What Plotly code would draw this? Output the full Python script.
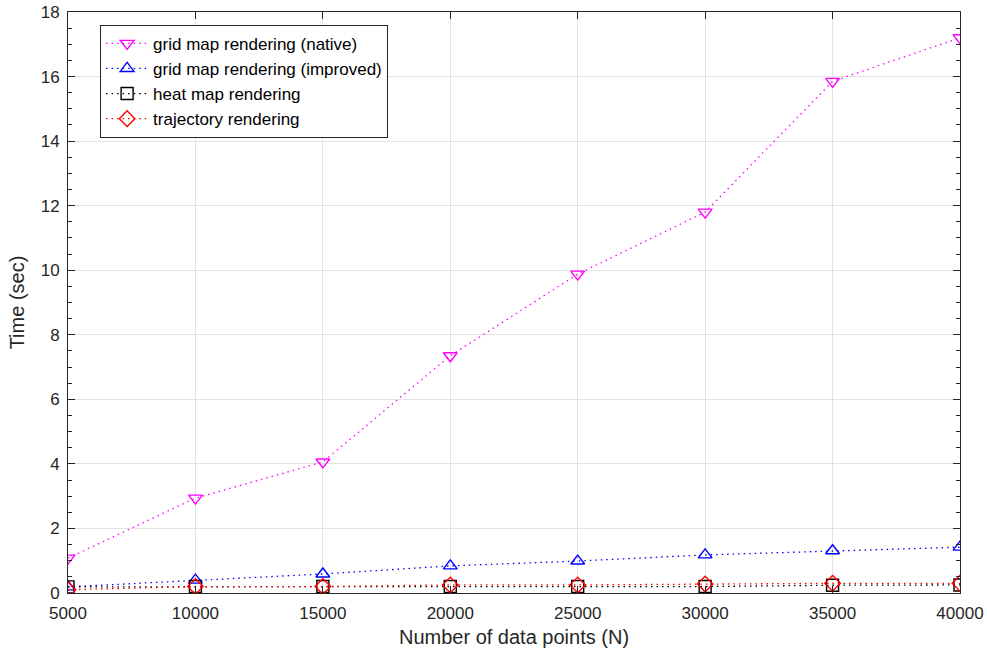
import plotly.graph_objects as go

n_points = [5000, 10000, 15000, 20000, 25000, 30000, 35000, 40000]
x_tick_labels = ["5000", "10000", "15000", "20000", "25000", "30000", "35000", "40000"]
grid_native = [1.08, 2.94, 4.06, 7.35, 9.88, 11.8, 15.85, 17.2]
grid_improved = [0.19, 0.40, 0.59, 0.84, 0.99, 1.18, 1.31, 1.42]
heat_map = [0.19, 0.2, 0.2, 0.2, 0.2, 0.2, 0.24, 0.25]
trajectory = [0.1, 0.2, 0.2, 0.25, 0.25, 0.28, 0.3, 0.3]

series = [
    ("grid map rendering (native)", grid_native, "#FF00FF", "triangle-down-open"),
    ("grid map rendering (improved)", grid_improved, "#0000FF", "triangle-up-open"),
    ("heat map rendering", heat_map, "#000000", "square-open"),
    ("trajectory rendering", trajectory, "#FF0000", "diamond-open"),
]

fig = go.Figure()
for name, vals, color, sym in series:
    fig.add_trace(go.Scatter(
        x=n_points, y=vals, name=name, mode="lines+markers",
        line=dict(color=color, width=1.3, dash="1.5px,4px"),
        marker=dict(symbol=sym, size=12, color=color, line=dict(color=color, width=1.4)),
    ))

font_family = "Liberation Sans, Arial, sans-serif"
axis_common = dict(
    showline=True, linecolor="#262626", linewidth=1, mirror="ticks",
    ticks="inside", ticklen=7, tickcolor="#262626",
    showgrid=True, gridcolor="#E3E3E3", gridwidth=1,
    zeroline=False, automargin=False,
    tickfont=dict(family=font_family, size=17, color="#262626"),
)

fig.update_layout(
    width=987, height=656,
    margin=dict(l=68, r=27, t=12, b=63),
    paper_bgcolor="white", plot_bgcolor="white",
    font=dict(family=font_family, color="#262626"),
    xaxis=dict(
        range=[5000, 40000], tickvals=n_points, ticktext=x_tick_labels,
        title=dict(text="Number of data points (N)", font=dict(size=20), standoff=7),
        ticklabelstandoff=5,
        **axis_common,
    ),
    yaxis=dict(
        range=[0, 18], dtick=2,
        title=dict(text="Time (sec)", font=dict(size=20), standoff=10),
        ticklabelstandoff=4,
        minor=dict(ticks="inside", ticklen=4, dtick=0.5, tickcolor="#262626", showgrid=False),
        **axis_common,
    ),
    legend=dict(
        x=0.036, y=0.978, xanchor="left", yanchor="top",
        bgcolor="white", bordercolor="#262626", borderwidth=1,
        font=dict(size=17, color="#000000"),
        itemwidth=42, tracegroupgap=0,
    ),
    showlegend=True,
)

fig.write_html("out.html", config={"displayModeBar": False},
               post_script="document.body.style.margin='0';")
